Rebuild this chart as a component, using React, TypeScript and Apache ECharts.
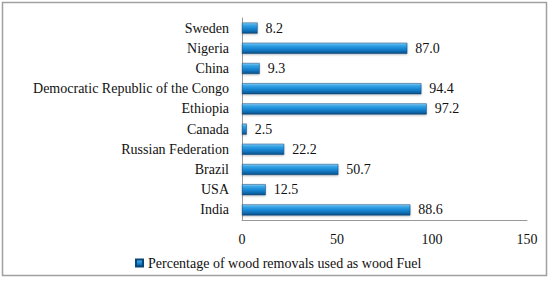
import React, { useEffect, useRef } from "react";
import * as echarts from "echarts";

const categories = [
  "India",
  "USA",
  "Brazil",
  "Russian Federation",
  "Canada",
  "Ethiopia",
  "Democratic Republic of the Congo",
  "China",
  "Nigeria",
  "Sweden",
];
const values = [88.6, 12.5, 50.7, 22.2, 2.5, 97.2, 94.4, 9.3, 87.0, 8.2];
const seriesName = "Percentage of wood removals used as wood Fuel";
const xMin = 0;
const xMax = 150;
const xInterval = 50;

const FONT = "'Liberation Serif', serif";

export default function App() {
  const ref = useRef<HTMLDivElement>(null);
  useEffect(() => {
    document.body.style.margin = "0";
    if (!ref.current) return;
    const chart = echarts.init(ref.current, null, { renderer: "svg" });
    const barGradient = new echarts.graphic.LinearGradient(0, 0, 0, 1, [
      { offset: 0, color: "#8fd0f5" },
      { offset: 0.2, color: "#3aa6e6" },
      { offset: 0.55, color: "#1585d2" },
      { offset: 0.85, color: "#0f64a6" },
      { offset: 1, color: "#0a4578" },
    ]);
    chart.setOption({
      animation: false,
      backgroundColor: "#ffffff",
      textStyle: { fontFamily: FONT },
      graphic: [
        {
          type: "rect",
          shape: { x: 2.5, y: 2.5, width: 544, height: 273 },
          style: { fill: "none", stroke: "#a0a0a0", lineWidth: 1.5 },
          silent: true,
        },
      ],
      grid: { left: 242, right: 23, top: 18, bottom: 61, containLabel: false },
      legend: {
        show: true,
        left: 130,
        top: 251,
        icon: "rect",
        itemWidth: 7,
        itemHeight: 7,
        itemGap: 4,
        textStyle: { fontFamily: FONT, fontSize: 14, color: "#111" },
        data: [seriesName],
      },
      xAxis: {
        type: "value",
        min: xMin,
        max: xMax,
        interval: xInterval,
        axisLine: { show: true, lineStyle: { color: "#999", width: 1 } },
        axisTick: { show: false },
        splitLine: { show: false },
        axisLabel: { fontFamily: FONT, fontSize: 14, color: "#111", margin: 12 },
      },
      yAxis: {
        type: "category",
        data: categories,
        axisLine: { show: true, lineStyle: { color: "#999", width: 1 } },
        axisTick: { show: false },
        axisLabel: { fontFamily: FONT, fontSize: 14, color: "#111", margin: 13 },
      },
      series: [
        {
          name: seriesName,
          type: "bar",
          data: values,
          barWidth: 11,
          itemStyle: {
            color: barGradient,
            borderColor: "#0a4578",
            borderWidth: 0.5,
            shadowColor: "rgba(0,0,0,0.25)",
            shadowBlur: 2,
            shadowOffsetY: 1,
          },
          label: {
            show: true,
            position: "right",
            distance: 8,
            fontFamily: FONT,
            fontSize: 14,
            color: "#111",
            formatter: (p: any) => Number(p.value).toFixed(1),
          },
        },
      ],
    });
    return () => chart.dispose();
  }, []);
  return <div ref={ref} style={{ width: 550, height: 281 }} />;
}
